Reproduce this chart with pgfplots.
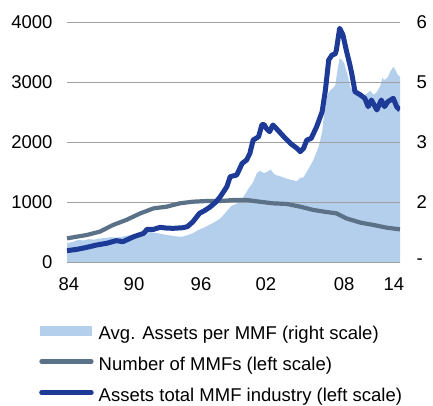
\documentclass[border=0pt]{standalone}
\usepackage{pgfplots}
\pgfplotsset{compat=1.18}
\usepackage{fontspec}
\setmainfont{Liberation Sans}
\definecolor{fillblue}{HTML}{B4CFEC}
\definecolor{darkblue}{HTML}{1C3A96}
\definecolor{greyblue}{HTML}{5A7187}
\definecolor{gridgray}{HTML}{A0A0A0}
\newcommand{\lfont}{\fontsize{18.5}{20}\selectfont}
\begin{document}
\begin{tikzpicture}
\useasboundingbox (-67pt,-143pt) rectangle (366pt,262pt);
% right scale: average assets per MMF
\begin{axis}[
  at={(0,0)}, anchor=south west,
  scale only axis, width=333pt, height=240pt,
  xmin=1984, xmax=2014.41, ymin=0, ymax=6,
  axis x line=none,
  axis y line*=right,
  y axis line style={draw=none},
  ytick={0,1.5,3,4.5,6},
  yticklabels={-,2,3,5,6},
  major tick length=0pt,
  yticklabel style={font=\lfont, /pgf/number format/assume math mode=true, xshift=13pt},
]
\addplot[fill=fillblue, draw=none] coordinates {
(1984.0,0) (1984.0,0.47) (1984.5,0.50) (1985.0,0.55) (1985.5,0.54) (1986.0,0.57) (1986.5,0.56)
(1987.0,0.59) (1987.5,0.60) (1988.0,0.62) (1988.5,0.61) (1989.0,0.63) (1989.5,0.66)
(1990.0,0.68) (1990.5,0.70) (1991.0,0.72) (1991.5,0.76) (1992.0,0.73) (1992.5,0.71)
(1993.0,0.68) (1993.5,0.66) (1994.0,0.64) (1994.5,0.63) (1995.0,0.67) (1995.5,0.72)
(1996.0,0.80) (1996.5,0.86) (1997.0,0.93) (1997.5,1.00) (1998.0,1.09) (1998.5,1.24)
(1999.0,1.40) (1999.5,1.46) (2000.0,1.58) (2000.5,1.80) (2001.0,2.00) (2001.3,2.20)
(2001.6,2.28) (2002.0,2.22) (2002.3,2.26) (2002.6,2.31) (2002.8,2.24) (2003.0,2.18)
(2003.5,2.14) (2004.0,2.09) (2004.5,2.05) (2005.0,2.02) (2005.3,2.10) (2005.6,2.12)
(2006.0,2.30) (2006.5,2.55) (2007.0,2.90) (2007.3,3.25) (2007.5,3.75) (2007.8,4.20)
(2008.0,4.28) (2008.3,4.35) (2008.5,4.42) (2008.7,4.80) (2008.9,5.10) (2009.1,5.05)
(2009.3,4.98) (2009.6,4.70) (2009.9,4.35) (2010.2,4.28) (2010.5,4.26) (2010.8,4.18)
(2011.1,4.15) (2011.4,4.22) (2011.7,4.28) (2012.0,4.18) (2012.3,4.25) (2012.6,4.40)
(2012.8,4.60) (2013.0,4.55) (2013.3,4.62) (2013.5,4.75) (2013.8,4.88) (2014.0,4.80)
(2014.2,4.68) (2014.41,4.63) (2014.41,0)
} \closedcycle;
\end{axis}
% left scale
\begin{axis}[
  at={(0,0)}, anchor=south west,
  scale only axis, width=333pt, height=240pt,
  xmin=1984, xmax=2014.41, ymin=0, ymax=4000,
  axis y line*=left,
  axis x line*=bottom,
  y axis line style={draw=none},
  x axis line style={draw=gridgray, line width=0.8pt},
  ytick={0,1000,2000,3000,4000},
  ymajorgrids, grid style={gridgray, line width=0.8pt},
  xtick={1984.18,1990.12,1996.24,2002.17,2009.30,2013.86},
  xticklabels={84,90,96,02,08,14},
  major tick length=0pt,
  scaled y ticks=false,
  yticklabel style={font=\lfont, /pgf/number format/assume math mode=true, /pgf/number format/1000 sep={}, xshift=-11pt},
  xticklabel style={font=\lfont, yshift=-12pt},
  legend cell align=left,
  legend style={at={(rel axis cs:-0.084,-0.266)}, anchor=north west, draw=none, fill=none,
    font=\lfont, inner sep=0pt, row sep=14pt, column sep=5pt,
    nodes={inner sep=0pt, text height=13pt, text depth=4pt}},
]
\addlegendimage{area legend, fill=fillblue, draw=none, legend image code/.code={\fill[fillblue] (0pt,-0.5pt) rectangle (52pt,9pt);}}
\addlegendentry{Avg. Assets per MMF (right scale)}
\addplot[greyblue, line width=4.2pt, line join=round, legend image code/.code={\draw[greyblue, line width=4.2pt, line cap=round] (1pt,4.5pt) -- (51pt,4.5pt);}] coordinates {
(1984.0,394) (1985.8,450) (1987.0,506) (1988.2,617) (1989.4,700) (1990.7,811) (1991.9,894)
(1993.1,922) (1994.3,978) (1995.5,1005) (1996.8,1017) (1998.0,1017) (1999.2,1033)
(2000.4,1033) (2001.6,1005) (2002.8,978) (2004.1,967) (2005.3,922) (2006.5,867)
(2007.7,833) (2008.6,811) (2009.5,728) (2010.8,656) (2012.0,617) (2013.2,572) (2014.41,544)
};
\addlegendentry{Number of MMFs (left scale)}
\addplot[darkblue, line width=5pt, line join=round, legend image code/.code={\draw[darkblue, line width=4.5pt, line cap=round] (1pt,4.5pt) -- (51pt,4.5pt);}] coordinates {
(1984.0,189) (1984.9,211) (1985.8,244) (1986.7,283) (1987.6,311) (1988.5,356) (1989.1,339)
(1989.6,380) (1990.1,422) (1991.0,478) (1991.3,544) (1991.9,544) (1992.5,578) (1993.1,565)
(1993.7,561) (1994.6,572) (1995.0,590) (1995.5,672) (1996.1,811) (1996.6,860) (1997.1,922)
(1997.6,1000) (1998.0,1089) (1998.6,1256) (1998.9,1422) (1999.5,1450) (2000.0,1645)
(2000.4,1700) (2000.7,1811) (2001.0,2033) (2001.5,2089) (2001.8,2290) (2002.0,2290)
(2002.2,2228) (2002.5,2172) (2002.8,2283) (2003.1,2228) (2003.8,2089) (2004.4,1978)
(2005.0,1894) (2005.3,1839) (2005.6,1894) (2005.9,2033) (2006.3,2061) (2006.8,2256)
(2007.3,2506) (2007.6,2867) (2007.9,3367) (2008.2,3450) (2008.5,3470) (2008.6,3534)
(2008.9,3895) (2009.2,3784) (2009.5,3534) (2009.8,3311) (2010.0,3145) (2010.3,2839)
(2010.8,2784) (2011.2,2728) (2011.5,2589) (2011.8,2700) (2012.3,2534) (2012.7,2700)
(2013.0,2589) (2013.3,2672) (2013.8,2728) (2014.1,2589) (2014.41,2534)
};
\addlegendentry{Assets total MMF industry (left scale)}
\end{axis}
\end{tikzpicture}
\end{document}
